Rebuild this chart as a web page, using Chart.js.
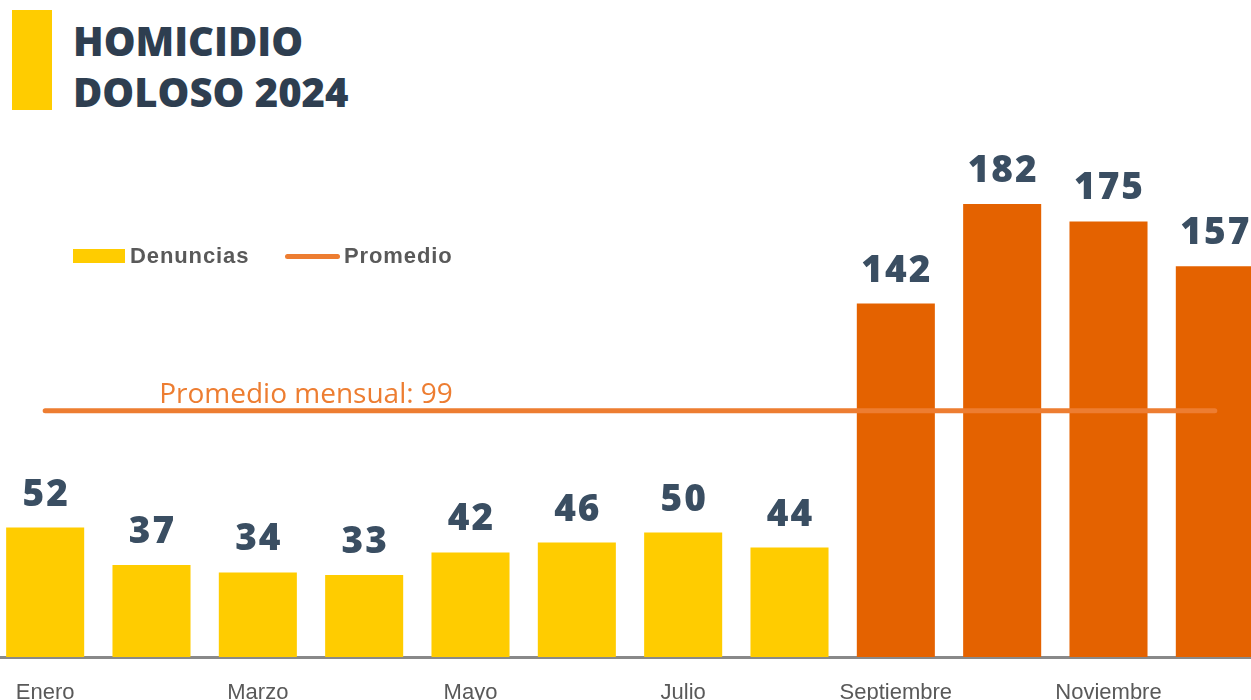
<!DOCTYPE html>
<html>
<head>
<meta charset="utf-8">
<script src="https://cdn.jsdelivr.net/npm/chart.js@4.4.1/dist/chart.umd.min.js"></script>
<style>
  body { margin: 0; background: #fff; overflow: hidden; width: 1251px; height: 700px; position: relative; }
  .title-bar { position: absolute; left: 12px; top: 10px; width: 40px; height: 100px; background: #FFCC00; }
  .title { position: absolute; left: 73px; top: 15px; font-family: "Open Sans"; font-weight: 800; font-size: 40px; line-height: 51px; color: #2E3E50; letter-spacing: 0px; }
  .legend { position: absolute; top: 240px; left: 73px; font-family: "Liberation Sans"; font-weight: bold; font-size: 22px; color: #595959; letter-spacing: 0.9px; }
  .legend span { position: absolute; white-space: nowrap; }
  .chart-wrap { position: absolute; left: -8px; top: 0; width: 1276px; height: 700px; }
</style>
</head>
<body>
<div class="title-bar"></div>
<div class="title">HOMICIDIO<br>DOLOSO 2024</div>
<div class="chart-wrap"><canvas id="homicidioChart"></canvas></div>
<div class="legend">
  <span style="left:0;top:9px;width:52px;height:14px;background:#FFCC00"></span>
  <span style="left:57px;top:3px">Denuncias</span>
  <span style="left:212px;top:14px;width:55px;height:5px;border-radius:3px;background:#ED7D31"></span>
  <span style="left:271px;top:3px">Promedio</span>
</div>
<script>
// Monthly data
const months = ['Enero', 'Febrero', 'Marzo', 'Abril', 'Mayo', 'Junio', 'Julio', 'Agosto', 'Septiembre', 'Octubre', 'Noviembre', 'Diciembre'];
const denuncias = [52, 37, 34, 33, 42, 46, 50, 44, 142, 182, 175, 157];
const promedio = [99, 99, 99, 99, 99, 99, 99, 99, 99, 99, 99, 99];
const promedioLabel = 'Promedio mensual: 99';

// First months yellow, from September on dark orange
const barColors = denuncias.map((v, i) => i < 8 ? '#FFCC00' : '#E46200');

// Draws the numbers above the bars and the average label
const labelsPlugin = {
    id: 'labelsPlugin',
    afterDatasetsDraw(chart) {
        const ctx = chart.ctx;
        const meta = chart.getDatasetMeta(1);
        ctx.save();
        ctx.fillStyle = '#3A4E62';
        ctx.font = '800 37px "Open Sans"';
        ctx.letterSpacing = '2px';
        ctx.textAlign = 'center';
        ctx.textBaseline = 'alphabetic';
        meta.data.forEach((bar, i) => {
            ctx.fillText(denuncias[i], bar.x + 1, bar.y - 22);
        });
        const x = chart.scales.x;
        const y = chart.scales.y;
        ctx.letterSpacing = '0px';
        ctx.fillStyle = '#ED7D31';
        ctx.font = '28px "Open Sans"';
        ctx.fillText(promedioLabel, (x.getPixelForValue(2) + x.getPixelForValue(3)) / 2 - 5, y.getPixelForValue(promedio[0]) - 8);
        ctx.restore();
    }
};

const ctx = document.getElementById('homicidioChart').getContext('2d');
new Chart(ctx, {
    data: {
        labels: months,
        datasets: [{
            type: 'line',
            label: 'Promedio',
            data: promedio,
            borderColor: '#ED7D31',
            borderWidth: 5,
            borderCapStyle: 'round',
            pointRadius: 0,
            fill: false,
        }, {
            type: 'bar',
            label: 'Denuncias',
            data: denuncias,
            backgroundColor: barColors,
            barPercentage: 0.734,
            categoryPercentage: 1,
        }],
    },
    options: {
        responsive: true,
        maintainAspectRatio: false,
        animation: false,
        layout: { padding: 0 },
        plugins: {
            legend: { display: false },
            tooltip: { enabled: false },
        },
        scales: {
            x: {
                grid: { display: false },
                border: { display: true, color: '#898989', width: 3 },
                ticks: {
                    autoSkip: false,
                    maxRotation: 0,
                    padding: 15,
                    color: '#595959',
                    font: { family: 'Liberation Sans', size: 22 },
                    callback: function (value, index) {
                        return index % 2 === 0 ? months[index] : '';
                    },
                },
                afterFit: function (scale) { scale.height = 43; },
            },
            y: {
                display: false,
                min: 0,
                max: 264,
            },
        },
    },
    plugins: [labelsPlugin],
});
</script>
</body>
</html>
